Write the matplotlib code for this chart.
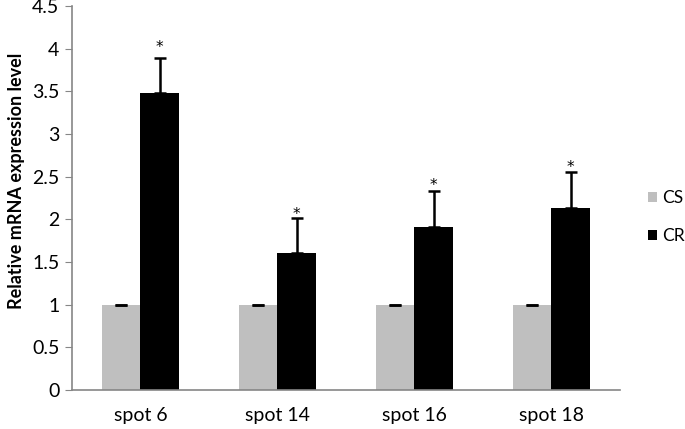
import matplotlib.pyplot as plt
import numpy as np

plt.rcParams['font.family'] = ['Lato', 'DejaVu Sans']

spots = ['spot 6', 'spot 14', 'spot 16', 'spot 18']
cs = [1.0, 1.0, 1.0, 1.0]
cs_err = [0.0, 0.0, 0.0, 0.0]
cr = [3.48, 1.60, 1.91, 2.13]
cr_err = [0.41, 0.42, 0.42, 0.42]
star_y = [4.01, 2.06, 2.40, 2.61]

fig = plt.figure(figsize=(6.85, 4.29), dpi=100)
ax = fig.add_axes([0.105, 0.091, 0.80, 0.895])

x = np.arange(len(spots))
w = 0.28
ax.bar(x - w / 2, cs, w, color='#BFBFBF', label='CS')
ax.bar(x + w / 2, cr, w, color='black', label='CR')
ax.errorbar(x - w / 2, cs, yerr=[np.zeros(4), cs_err], fmt='none',
            ecolor='black', elinewidth=1.5, capsize=4, capthick=1.8)
ax.errorbar(x + w / 2, cr, yerr=[np.zeros(4), cr_err], fmt='none',
            ecolor='black', elinewidth=1.8, capsize=4.5, capthick=1.8)
for xi, yi in zip(x, star_y):
    ax.text(xi + w / 2, yi, '*', ha='center', va='center', fontsize=11,
            family='DejaVu Sans')

ax.set_xlim(-0.5, 3.5)
ax.set_ylim(0, 4.5)
ax.set_yticks(np.arange(0, 4.51, 0.5))
ax.set_yticklabels(['0', '0.5', '1', '1.5', '2', '2.5', '3', '3.5', '4', '4.5'])
ax.set_xticks(x)
ax.set_xticklabels(spots)
ax.tick_params(axis='x', length=0, pad=12, labelsize=14)
ax.tick_params(axis='y', length=5, color='#868686', labelsize=14, pad=4)
ax.set_ylabel('Relative mRNA expression level', fontsize=13, fontweight='bold')
ax.yaxis.set_label_coords(-0.085, 0.545)
for s in ['top', 'right']:
    ax.spines[s].set_visible(False)
for s in ['left', 'bottom']:
    ax.spines[s].set_color('#868686')
    ax.spines[s].set_linewidth(1.2)

ax.legend(loc='center left', bbox_to_anchor=(1.052, 0.45), frameon=False,
          handlelength=0.5, handleheight=0.5, fontsize=12.5, labelspacing=1.3,
          handletextpad=0.3, borderpad=0, borderaxespad=0)

fig.savefig('out.png', dpi=100)
